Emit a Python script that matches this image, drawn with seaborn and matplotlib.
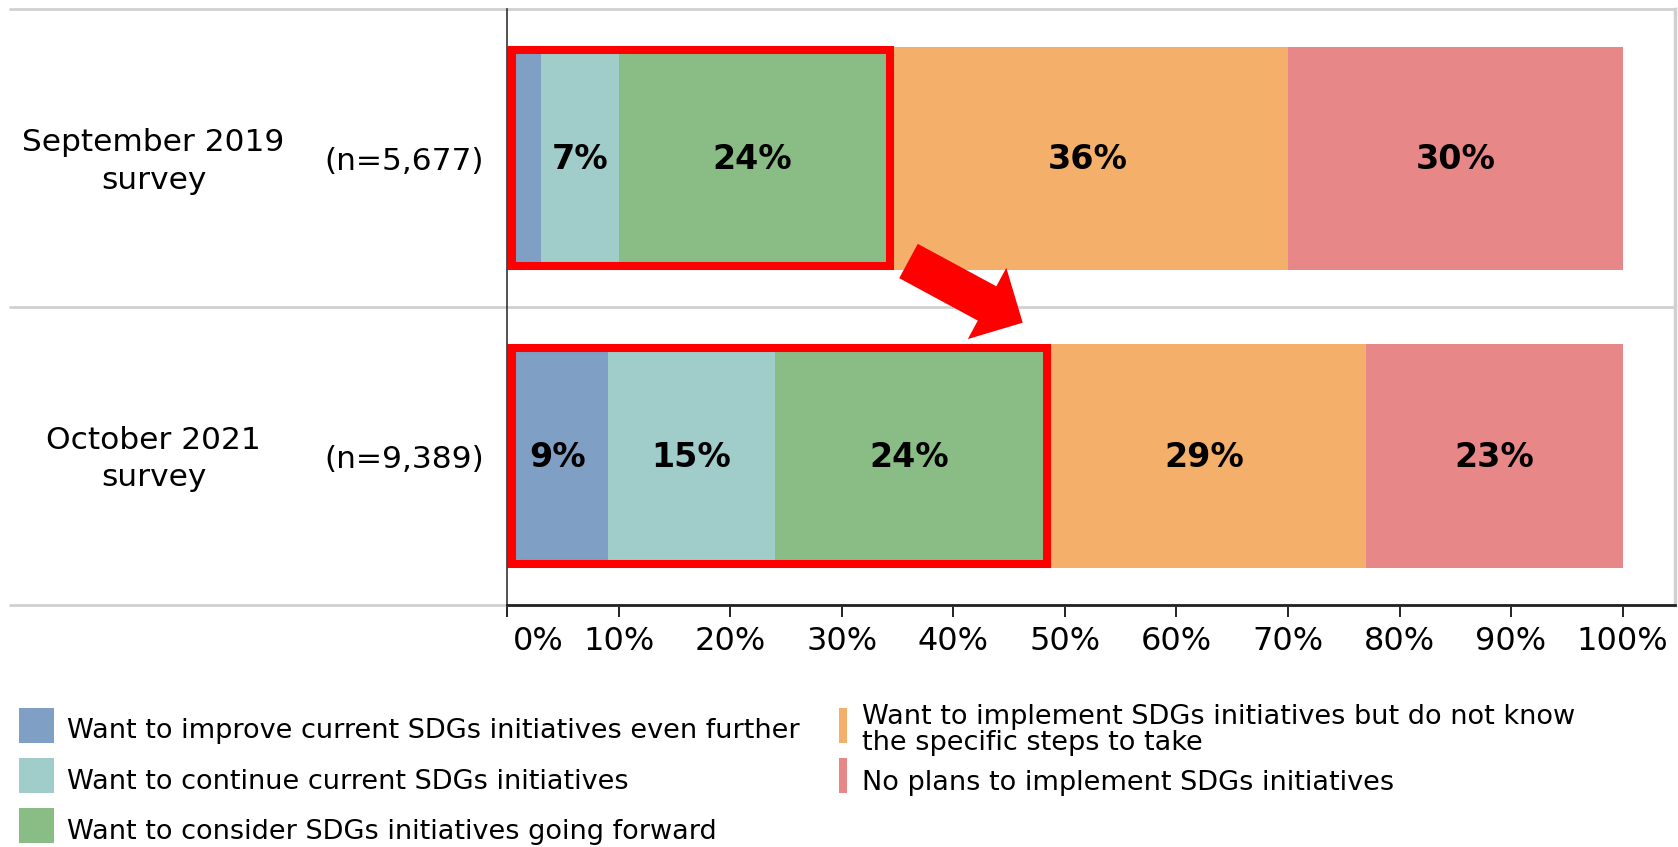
import numpy as np
import matplotlib
matplotlib.use("Agg")
import matplotlib.pyplot as plt
import matplotlib.transforms as mtransforms
from matplotlib.patches import Rectangle, FancyArrow
from matplotlib.lines import Line2D
import seaborn as sns

# ---- data -------------------------------------------------------------
surveys = ["September 2019\nsurvey", "October 2021\nsurvey"]
sample_sizes = ["(n=5,677)", "(n=9,389)"]
responses = [
    "Want to improve current SDGs initiatives even further",
    "Want to continue current SDGs initiatives",
    "Want to consider SDGs initiatives going forward",
    "Want to implement SDGs initiatives but do not know\nthe specific steps to take",
    "No plans to implement SDGs initiatives",
]
improve = [3, 9]
continue_ = [7, 15]
consider = [24, 24]
unsure_how = [36, 29]
no_plans = [30, 23]
x_ticks = [0, 10, 20, 30, 40, 50, 60, 70, 80, 90, 100]

colors = ["#7FA0C4", "#A0CCCA", "#8ABD85", "#F4AF6B", "#E88787"]

# ---- figure -----------------------------------------------------------
sns.set_theme(style="white")
plt.rcParams["font.family"] = ["DejaVu Sans"]

W, H = 1678, 847
fig = plt.figure(figsize=(W / 100, H / 100), dpi=100)
ax = fig.add_axes([507.3 / W, 1 - 604.7 / H, (1675 - 507.3) / W, (604.7 - 9.5) / H])

series = np.array([improve, continue_, consider, unsure_how, no_plans], dtype=float)
cum = np.cumsum(series, axis=0)
starts = cum - series

# stacked bars: draw cumulative totals from the outermost segment inwards
for i in reversed(range(len(series))):
    sns.barplot(x=cum[i], y=surveys, orient="h", color=colors[i], saturation=1,
                width=0.75, linewidth=0, errorbar=None, ax=ax, zorder=2)

ax.set_xlim(0, 104.7)
ax.set_ylim(1.5, -0.5)
ax.set_xlabel("")
ax.set_ylabel("")
ax.set_yticks([])

# segment value labels
for i in range(len(series)):
    for j in range(len(surveys)):
        v = series[i, j]
        if v >= 5:
            ax.text(starts[i, j] + v / 2, j + 0.005, f"{int(v)}%", ha="center", va="center",
                    fontsize=24, fontweight="bold", color="black", zorder=5)

# red outlines around the first three response groups
for j in range(len(surveys)):
    ax.add_patch(Rectangle((0.4, j - 0.3625), cum[2, j] - 0.05, 0.725, fill=False,
                           edgecolor="#FF0000", linewidth=5.8, zorder=6,
                           joinstyle="miter"))

# survey labels to the left of the axis
lab_tr = mtransforms.blended_transform_factory(fig.transFigure, ax.transData)
for j in range(len(surveys)):
    ax.text(153.5 / W, j + 0.01, surveys[j], transform=lab_tr, ha="center", va="center",
            fontsize=22.5, color="black", linespacing=1.38)
    ax.text(404.5 / W, j + 0.012, sample_sizes[j], transform=lab_tr, ha="center",
            va="center", fontsize=22.5, color="black")

# table rules
for yv in (-0.5, 0.5, 1.5):
    ax.add_line(Line2D([10 / W, 1675 / W], [yv, yv], transform=lab_tr, color="#D0D0D0",
                       linewidth=2, clip_on=False, zorder=1))

# spines and ticks
ax.spines["top"].set_visible(False)
ax.spines["left"].set_color("#333333")
ax.spines["left"].set_linewidth(1.2)
ax.spines["right"].set_color("#D0D0D0")
ax.spines["right"].set_linewidth(2.5)
ax.spines["bottom"].set_color("#222222")
ax.spines["bottom"].set_linewidth(2.0)
ax.spines["bottom"].set_zorder(3)

ax.set_xticks(x_ticks)
ax.set_xticklabels([f"{t}%" for t in x_ticks])
ax.tick_params(axis="x", direction="out", length=8.6, width=1.4, color="#222222",
               pad=7, labelsize=23, labelcolor="black", bottom=True)
first = ax.get_xticklabels()[0]
first.set_ha("left")
first.set_transform(first.get_transform() + mtransforms.ScaledTranslation(6 / 100, 0, fig.dpi_scale_trans))

# arrow pointing from the 2019 group to the 2021 group
arrow = FancyArrow(9.085, 5.86, 1.142, -0.617, width=0.39, head_width=0.81,
                   head_length=0.405, length_includes_head=True, color="#FF0000",
                   linewidth=0, transform=fig.dpi_scale_trans, zorder=10)
fig.add_artist(arrow)

# legend
def fy(y):
    return 1 - y / H

left_items = [(0, 708, 738), (1, 758, 789), (2, 808, 839)]
for idx, top, base in left_items:
    fig.add_artist(Rectangle((19 / W, fy(top + 35)), 35 / W, 35 / H, color=colors[idx],
                             transform=fig.transFigure, linewidth=0))
    fig.text(67 / W, fy(base), responses[idx], ha="left", va="baseline", fontsize=19.5,
             color="black")

fig.add_artist(Rectangle((839 / W, fy(743)), 8 / W, 35 / H, color=colors[3],
                         transform=fig.transFigure, linewidth=0))
line1, line2 = responses[3].split("\n")
fig.text(862 / W, fy(724), line1, ha="left", va="baseline", fontsize=19.5, color="black")
fig.text(862 / W, fy(750), line2, ha="left", va="baseline", fontsize=19.5, color="black")
fig.add_artist(Rectangle((839 / W, fy(793)), 8 / W, 35 / H, color=colors[4],
                         transform=fig.transFigure, linewidth=0))
fig.text(862 / W, fy(790), responses[4], ha="left", va="baseline", fontsize=19.5,
         color="black")

fig.savefig("out.png", dpi=100, facecolor="white")
